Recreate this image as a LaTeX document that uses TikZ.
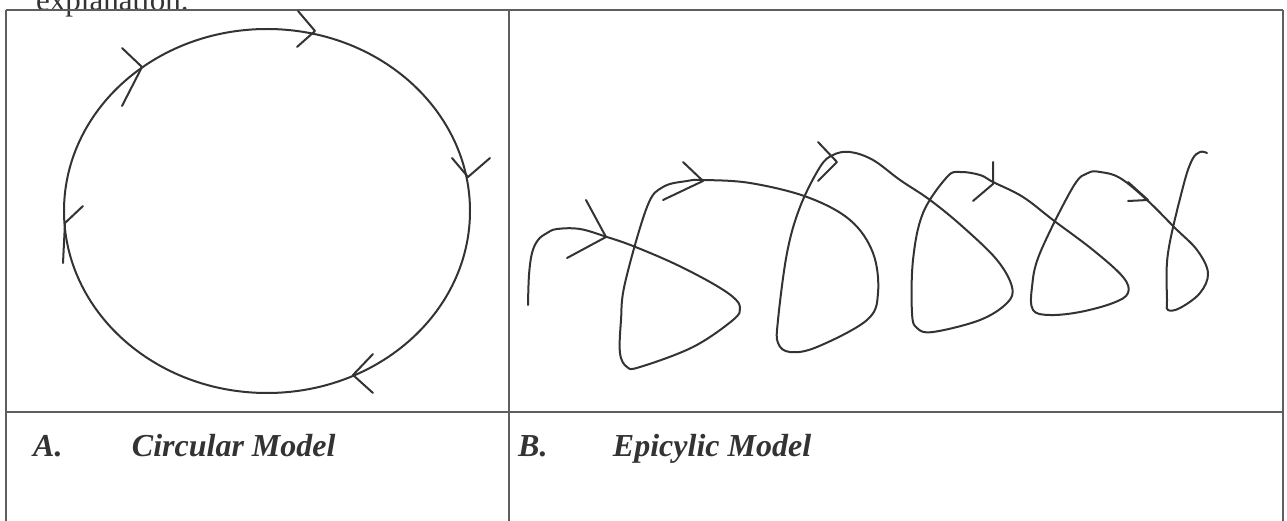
\documentclass[tikz,border=0pt]{standalone}
\usepackage{fontspec}
\setmainfont{Liberation Serif}
\usetikzlibrary{positioning}
\definecolor{rulegray}{HTML}{5E5E5E}
\definecolor{ink}{HTML}{333333}
\tikzset{
  rule line/.style={draw=rulegray, line width=1.6pt},
  sketch/.style={draw=ink, line width=2pt, line cap=round, line join=round},
  celltext/.style={font=\fontsize{32}{38}\selectfont\bfseries\itshape, text=ink, inner sep=0pt}
}
\begin{document}
\begin{tikzpicture}[x=1pt, y=-1pt]
\clip (0,0) rectangle (1287,521);
% text above the table, cut off
\node[font=\fontsize{31}{36}\selectfont, text=ink, inner sep=0pt, anchor=base west] (intro) at (36,11) {explanation.};

% table rules
\draw[rule line] (6,10) -- (1283,10);
\draw[rule line] (6,412) -- (1283,412);
\draw[rule line] (6,10) -- (6,521);
\draw[rule line] (509,10) -- (509,521);
\draw[rule line] (1283,10) -- (1283,521);

% circular model
\draw[sketch] (267,211) ellipse [x radius=203pt, y radius=182pt];
\draw[sketch] (298,11) -- (315,31) -- (297,47);
\draw[sketch] (122,48) -- (142,67) -- (122,106);
\draw[sketch] (452,158) -- (468,177) -- (490,158);
\draw[sketch] (373,354) -- (353,375) -- (373,393);
\draw[sketch] (83,206) -- (65,223) -- (63,263);

% epicyclic model
\draw[sketch] plot[smooth, tension=0.6] coordinates {
  (528,305) (529,275) (532,253) (538,240) (547,233) (557,229) (580,229)
  (607,237) (633,246) (673,263) (710,282) (733,297) (740,308) (733,320)
  (693,347) (640,367) (627,367) (620,353) (621,320) (625,283)
  (647,207) (663,187) (687,181) (703,180) (750,183) (807,197) (850,220)
  (873,253) (878,293) (867,320) (817,347) (790,352) (778,343) (778,320)
  (787,253) (800,207) (820,167) (833,155) (850,152) (873,160)
  (900,180) (930,200) (963,227) (997,260) (1012,287) (1007,303) (980,320)
  (933,332) (917,328) (912,313) (913,260) (923,213) (947,177)
  (960,172) (980,175) (993,182) (1023,197) (1053,220) (1093,250) (1123,277)
  (1128,293) (1113,303) (1080,312) (1050,315) (1033,310) (1032,287) (1040,253)
  (1073,187) (1088,173) (1100,172) (1120,178) (1147,200) (1175,228)
  (1197,250) (1208,273) (1200,293) (1180,308) (1168,310) (1167,300) (1168,253)
  (1183,187) (1192,160) (1200,152) (1207,153)};
\draw[sketch] (586,200) -- (606,237) -- (567,258);
\draw[sketch] (683,162) -- (703,181) -- (663,200);
\draw[sketch] (818,142) -- (837,162) -- (818,181);
\draw[sketch] (993,162) -- (993,184) -- (973,201);
\draw[sketch] (1128,182) -- (1148,200) -- (1128,201);

% captions
\node[celltext, anchor=base west] (labA) at (33,456) {A.};
\node[celltext, base right=69pt of labA] (nameA) {Circular Model};
\node[celltext, anchor=base west] (labB) at (518,456) {B.};
\node[celltext, base right=65pt of labB] (nameB) {Epicylic Model};
\end{tikzpicture}
\end{document}
